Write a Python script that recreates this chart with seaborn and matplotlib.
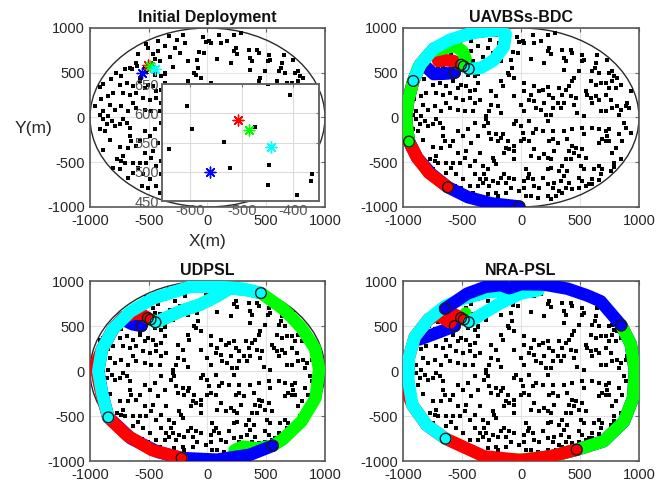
import matplotlib
matplotlib.use("Agg")
import matplotlib.pyplot as plt
from matplotlib.patches import Circle
import seaborn as sns

sns.set_style("whitegrid")
plt.rcParams["font.family"] = ["Liberation Sans", "DejaVu Sans"]
plt.rcParams["axes.unicode_minus"] = False

# ---- sensor nodes (m), read region by region off the picture ----
sensors_ne = [(-34, 896), (14, 858), (28, 832), (-14, 840), (99, 925), (170, 858), (113, 832), (226, 918),
              (288, 944), (-71, 732), (-28, 721), (-85, 646), (226, 739), (254, 709), (240, 776), (-170, 627),
              (198, 609), (85, 653), (-79, 553), (-99, 478), (-56, 441), (-113, 497), (-170, 404), (-155, 348),
              (28, 385), (113, 348), (155, 292), (184, 311), (226, 337), (240, 255), (268, 218), (-254, 292),
              (-212, 236), (-254, 143), (-198, 124), (-268, 68), (-56, 236), (28, 292), (71, 199), (113, 180),
              (127, 106), (170, 87), (212, 31), (268, 106), (311, 162), (28, 68), (-170, 50), (-297, 13),
              (325, 329), (198, 162), (254, 31), (85, 255), (0, 143)]
sensors_e = [(350, 758), (421, 758), (435, 721), (364, 665), (379, 627), (364, 534), (520, 702), (514, 627),
             (534, 646), (647, 702), (638, 609), (627, 553), (605, 516), (661, 497), (725, 640), (746, 497),
             (774, 516), (788, 460), (816, 441), (774, 404), (845, 367), (802, 329), (746, 329), (718, 385),
             (590, 404), (633, 367), (675, 385), (491, 516), (449, 441), (435, 404), (407, 348), (379, 311),
             (350, 255), (421, 236), (463, 218), (364, 162), (336, 106), (449, 143), (548, 292), (562, 255),
             (590, 218), (605, 162), (633, 236), (661, 199), (718, 255), (760, 199), (774, 106), (816, 124),
             (845, 87), (887, 124), (915, 106), (901, 162), (830, 31), (718, 68), (534, 13), (675, 68),
             (477, 50), (929, 292)]
sensors_s = [(-297, -20), (-282, -58), (-311, -95), (-268, -169), (-212, -188), (-254, -244), (-198, -262),
             (-170, -225), (-155, -188), (-113, -262), (-127, -337), (-141, -393), (-99, -356), (-56, -318),
             (-56, -374), (-56, -467), (-240, -449), (-226, -486), (-212, -523), (-325, -542), (-282, -579),
             (-311, -635), (-297, -691), (-325, -728), (-240, -710), (-198, -728), (-141, -635), (-170, -672),
             (-99, -672), (-56, -691), (-127, -728), (-85, -784), (-268, -765), (-282, -859), (-198, -877),
             (-212, -840), (-127, -840), (-42, -39), (-56, -76), (71, -39), (127, -132), (99, -169), (184, -151),
             (226, -39), (268, -151), (240, -262), (268, -244), (28, -244), (0, -262), (71, -262), (113, -356),
             (85, -430), (155, -449), (198, -411), (226, -449), (254, -467), (282, -374), (311, -281), (42, -579),
             (71, -635), (57, -672), (99, -691), (28, -710), (184, -672), (113, -765), (155, -784), (226, -747),
             (268, -784), (282, -728), (226, -579), (254, -561), (325, -598), (28, -784), (85, -877), (42, -877),
             (-14, -821), (141, -896), (226, -877), (254, -915), (297, -877), (325, -821), (0, -95), (14, -169)]
sensors_se = [(364, -151), (435, -132), (393, -244), (520, -113), (534, -188), (605, -113), (661, -132),
              (718, -151), (746, -132), (732, -207), (689, -244), (718, -262), (746, -262), (661, -281),
              (830, -188), (873, -58), (887, -113), (929, -169), (859, -262), (802, -337), (774, -393),
              (845, -467), (788, -505), (790, -555), (760, -598), (689, -579), (661, -542), (619, -579),
              (675, -635), (605, -691), (661, -700), (576, -747), (548, -765), (520, -710), (491, -672),
              (534, -579), (506, -542), (548, -449), (491, -430), (520, -356), (463, -337), (435, -318),
              (407, -374), (449, -393), (421, -467), (379, -467), (350, -542), (393, -598), (364, -654),
              (336, -710), (407, -728), (379, -784), (435, -803), (350, -840), (491, -784), (600, -740)]
sensors_sw = [(-887, -20), (-859, -76), (-816, -39), (-788, -95), (-746, -76), (-718, -20), (-689, -58),
              (-661, -113), (-915, -132), (-873, -151), (-661, -207), (-647, -262), (-675, -337), (-605, -318),
              (-576, -262), (-534, -151), (-492, -207), (-449, -132), (-393, -58), (-364, -207), (-421, -281),
              (-463, -374), (-534, -393), (-576, -505), (-520, -505), (-477, -449), (-774, -467), (-732, -486),
              (-703, -505), (-633, -505), (-590, -561), (-435, -542), (-393, -486), (-350, -393), (-393, -635),
              (-350, -691), (-492, -691), (-548, -635), (-506, -784), (-435, -765), (-364, -765), (-407, -840),
              (-718, -430), (-746, -579), (-633, -616), (-675, -672), (-830, -251), (-745, -330), (-889, -363),
              (-800, -560), (-560, -760)]
sensors_w = [(-746, 367), (-689, 385), (-633, 348), (-576, 404), (-534, 329), (-506, 367), (-463, 348),
             (-435, 292), (-393, 311), (-364, 385), (-718, 273), (-661, 255), (-605, 273), (-548, 218),
             (-492, 199), (-435, 218), (-393, 162), (-350, 199), (-830, 143), (-788, 87), (-732, 124),
             (-675, 68), (-605, 106), (-534, 87), (-477, 68), (-407, 68), (-887, 68), (-845, 13), (-915, 31),
             (-633, 162), (-449, 478), (-393, 460), (-364, 497)]
sensors_nw = [(-464, 705), (-450, 650), (-421, 743), (-407, 631), (-506, 780), (-520, 817), (-591, 705),
              (-606, 612), (-662, 556), (-705, 545), (-776, 501), (-733, 463), (-818, 426), (-889, 370),
              (-915, 340), (-904, 203), (-960, 128), (-421, 854), (-364, 799), (-804, 277), (-847, 240),
              (-597, 573), (-534, 551), (-522, 506), (-474, 576), (-448, 512), (-365, 484), (-642, 539),
              (-573, 446), (-260, 866), (-330, 915), (-210, 920), (-319, 676), (-234, 721), (-294, 564),
              (-280, 780), (-190, 830)]

area_radius = 1000
tick_values = [-1000, -500, 0, 500, 1000]

# UAV start points: blue, red, green, cyan
uav_colors = ["#0000ff", "#ff0000", "#00ff00", "#00ffff"]
start_x = [-561, -508, -485, -443]
start_y = [500, 589, 572, 542]

# ---- UAVBSs-BDC trajectories ----
bdc_blue_x = [-561, -640, -740, -800, -850, -913, -955, -975, -960, -949, -880, -760, -619, -450, -250, -14]
bdc_blue_y = [500, 490, 485, 560, 600, 408, 200, 0, -180, -269, -450, -630, -779, -890, -960, -995]
bdc_red_x = [-508, -570, -640, -700, -740, -850, -913, -955, -975, -960, -949, -880, -780, -619]
bdc_red_y = [589, 630, 640, 630, 770, 600, 408, 200, 0, -180, -269, -450, -620, -779]
bdc_green_x = [-485, -470, -495, -560, -760, -870, -913, -955, -975, -960, -949]
bdc_green_y = [572, 660, 740, 800, 740, 560, 408, 200, 0, -180, -269]
bdc_cyan_x = [-443, -340, -230, -145, -130, -170, -300, -440, -600, -740, -850, -913]
bdc_cyan_y = [542, 555, 640, 790, 930, 975, 965, 935, 870, 770, 600, 408]
bdc_end_x = [-14, -619, -949, -913]
bdc_end_y = [-995, -779, -269, 408]

# ---- UDPSL trajectories ----
udpsl_green_x = [-485, -427, -234, -64, 78, 192, 330, 455, 645, 800, 915, 950, 920, 800, 640, 555, 420, 300, 230]
udpsl_green_y = [572, 544, 663, 737, 830, 920, 900, 866, 690, 480, 250, 20, -300, -560, -760, -830, -860, -840, -880]
udpsl_blue_x = [-561, -640, -700, -712, -805, -898, -930, -898, -844, -650, -420, -220, 78, 362, 555]
udpsl_blue_y = [500, 520, 560, 598, 465, 241, 0, -241, -515, -750, -900, -967, -985, -930, -830]
udpsl_red_x = [-508, -560, -620, -712, -805, -898, -955, -905, -844, -680, -470, -220]
udpsl_red_y = [589, 630, 640, 598, 465, 241, 60, -241, -515, -720, -880, -967]
udpsl_cyan_x = [-443, -234, -64, 78, 192, 330, 455, 300, 100, -150, -465, -658, -805, -898, -930, -898, -844]
udpsl_cyan_y = [542, 663, 737, 830, 920, 900, 866, 915, 935, 935, 805, 658, 465, 241, 0, -241, -515]
udpsl_end_x = [455, -844, -220, 555]
udpsl_end_y = [866, -515, -967, -830]

# ---- NRA-PSL trajectories ----
nra_blue_hidden_x = [850, 930, 965, 950, 873, 700, 472, 251, 0]
nra_blue_hidden_y = [507, 300, 0, -300, -560, -780, -874, -948, -990]
nra_blue_branch_x = [-561, -680, -800, -865]
nra_blue_branch_y = [500, 440, 380, 350]
nra_green_stub_x = [-485, -478, -470]
nra_green_stub_y = [572, 610, 640]
nra_green_x = [850, 930, 965, 950, 873, 700, 472, 250, 0, -150]
nra_green_y = [507, 300, 0, -300, -560, -780, -874, -950, -985, -990]
nra_red_x = [-508, -580, -640, -600, -700, -780, -900, -950, -975, -920, -800, -639, -314, 0, 251, 472]
nra_red_y = [589, 640, 600, 540, 620, 580, 380, 150, -200, -380, -600, -752, -948, -990, -948, -874]
nra_cyan_x = [-443, -314, -172, -3, 150, -100, -300, -500, -644, -780, -900, -950, -955, -920, -800, -639]
nra_cyan_y = [542, 645, 755, 860, 900, 900, 870, 800, 720, 580, 380, 150, -100, -380, -600, -752]
nra_blue_top_x = [-644, -455, -300, -170, -100, 0, 200, 393, 560, 675, 850]
nra_blue_top_y = [692, 860, 935, 955, 920, 965, 960, 915, 840, 775, 507]
nra_end_x = [-644, 850, 472, -639]
nra_end_y = [692, 507, -874, -752]

sensors = sensors_ne + sensors_e + sensors_s + sensors_se + sensors_sw + sensors_w + sensors_nw
sensor_x = [p[0] for p in sensors]
sensor_y = [p[1] for p in sensors]

band_w = 9.0


def base_panel(ax, title):
    ax.add_patch(Circle((0, 0), area_radius, fill=False, ec="#2a2a2a", lw=1.0, zorder=1))
    sns.scatterplot(x=sensor_x, y=sensor_y, color="black", s=6, marker="s", linewidth=0, ax=ax, zorder=2)
    ax.set_xlim(-1000, 1000)
    ax.set_ylim(-1000, 1000)
    ax.set_xticks(tick_values)
    ax.set_yticks(tick_values)
    ax.set_title(title, fontsize=11.5, fontweight="bold", pad=4, color="#111111")
    ax.grid(True, color="#e2e2e2", lw=0.8)
    ax.set_axisbelow(True)
    ax.set_facecolor("white")
    for s in ax.spines.values():
        s.set_color("#595959")
        s.set_linewidth(1.2)
    ax.tick_params(direction="in", length=3, width=0.8, colors="#666666", labelcolor="#262626",
                   labelsize=10.5, top=True, right=True)
    ax.tick_params(axis="x", pad=5)
    ax.tick_params(axis="y", pad=3.5)


def band(ax, xs, ys, color):
    sns.lineplot(x=xs, y=ys, sort=False, estimator=None, color=color, lw=band_w,
                 solid_capstyle="round", solid_joinstyle="round", ax=ax, zorder=3)


def rings(ax, ex, ey):
    sns.scatterplot(x=start_x + ex, y=start_y + ey, marker="o", s=60, color="#1a1a1a",
                    linewidth=1.0, ax=ax, zorder=5)
    ring_marks = ax.collections[-1]
    ring_marks.set_facecolor("none")
    ring_marks.set_edgecolor("#1a1a1a")


fig = plt.figure(figsize=(6.68, 4.86), dpi=100)
ax_tl = fig.add_axes([0.1347, 0.5741, 0.3518, 0.3683])
ax_tr = fig.add_axes([0.6033, 0.5741, 0.3533, 0.3683])
ax_bl = fig.add_axes([0.1347, 0.0514, 0.3518, 0.3704])
ax_br = fig.add_axes([0.6033, 0.0514, 0.3533, 0.3704])

# initial deployment
base_panel(ax_tl, "Initial Deployment")
for i in range(4):
    sns.scatterplot(x=[start_x[i]], y=[start_y[i]], marker=(8, 2, 0), s=60, color=uav_colors[i],
                    linewidth=1.0, ax=ax_tl, zorder=4)

ins = fig.add_axes([0.2425, 0.5864, 0.2350, 0.2407])
sns.scatterplot(x=sensor_x, y=sensor_y, color="black", s=6, marker="s", linewidth=0, ax=ins, zorder=2)
for i in range(4):
    sns.scatterplot(x=[start_x[i]], y=[start_y[i]], marker=(8, 2, 0), s=60, color=uav_colors[i],
                    linewidth=1.0, ax=ins, zorder=4)
ins.set_xlim(-655, -350)
ins.set_ylim(450, 650)
ins.set_xticks([-600, -500, -400])
ins.set_yticks([450, 500, 550, 600, 650])
ins.set_facecolor("white")
ins.grid(True, color="#dcdcdc", lw=0.8)
ins.set_axisbelow(True)
for s in ins.spines.values():
    s.set_color("#666666")
    s.set_linewidth(1.4)
ins.tick_params(direction="in", length=2.5, colors="#707070", labelcolor="#555555", labelsize=10.5,
                top=True, right=True)
ins.tick_params(axis="x", pad=2)
ins.tick_params(axis="y", pad=2)

# UAVBSs-BDC
base_panel(ax_tr, "UAVBSs-BDC")
band(ax_tr, bdc_blue_x, bdc_blue_y, uav_colors[0])
band(ax_tr, bdc_red_x, bdc_red_y, uav_colors[1])
band(ax_tr, bdc_green_x, bdc_green_y, uav_colors[2])
band(ax_tr, bdc_cyan_x, bdc_cyan_y, uav_colors[3])
rings(ax_tr, bdc_end_x, bdc_end_y)

# UDPSL
base_panel(ax_bl, "UDPSL")
band(ax_bl, udpsl_green_x, udpsl_green_y, uav_colors[2])
band(ax_bl, udpsl_blue_x, udpsl_blue_y, uav_colors[0])
band(ax_bl, udpsl_red_x, udpsl_red_y, uav_colors[1])
band(ax_bl, udpsl_cyan_x, udpsl_cyan_y, uav_colors[3])
rings(ax_bl, udpsl_end_x, udpsl_end_y)

# NRA-PSL
base_panel(ax_br, "NRA-PSL")
band(ax_br, nra_blue_hidden_x, nra_blue_hidden_y, uav_colors[0])
band(ax_br, nra_blue_branch_x, nra_blue_branch_y, uav_colors[0])
band(ax_br, nra_green_stub_x, nra_green_stub_y, uav_colors[2])
band(ax_br, nra_green_x, nra_green_y, uav_colors[2])
band(ax_br, nra_red_x, nra_red_y, uav_colors[1])
band(ax_br, nra_cyan_x, nra_cyan_y, uav_colors[3])
band(ax_br, nra_blue_top_x, nra_blue_top_y, uav_colors[0])
rings(ax_br, nra_end_x, nra_end_y)

fig.text(33 / 668, 1 - 128 / 486, "Y(m)", fontsize=12.5, ha="center", va="center", color="#262626")
fig.text(207 / 668, 1 - 241 / 486, "X(m)", fontsize=12.5, ha="center", va="center", color="#262626")

fig.savefig("out.png", dpi=100)
